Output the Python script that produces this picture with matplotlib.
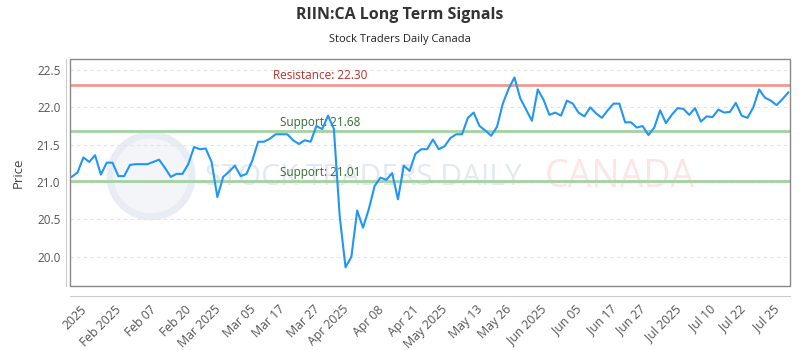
import matplotlib
matplotlib.use('Agg')
import matplotlib.pyplot as plt
import matplotlib.transforms as mtransforms
from matplotlib.patches import Rectangle, Ellipse

TITLE    = 'RIIN:CA Long Term Signals'
SUBTITLE = 'Stock Traders Daily Canada'

# daily closes (one value per trading day)
prices = [
    21.07, 21.13, 21.33, 21.27, 21.36, 21.10, 21.26, 21.26, 21.08, 21.08,
    21.23, 21.24, 21.24, 21.24, 21.27, 21.30, 21.19, 21.07, 21.11, 21.11,
    21.24, 21.47, 21.44, 21.45, 21.27, 20.80, 21.07, 21.14, 21.22, 21.08,
    21.11, 21.29, 21.54, 21.54, 21.58, 21.64, 21.64, 21.64, 21.56, 21.51,
    21.56, 21.54, 21.75, 21.71, 21.89, 21.71, 20.54, 19.86, 20.00, 20.62,
    20.39, 20.64, 20.95, 21.06, 21.03, 21.12, 20.77, 21.22, 21.15, 21.38,
    21.44, 21.44, 21.57, 21.44, 21.48, 21.59, 21.64, 21.64, 21.86, 21.93,
    21.75, 21.69, 21.62, 21.74, 22.05, 22.25, 22.40, 22.12, 21.97, 21.82,
    22.24, 22.10, 21.90, 21.93, 21.89, 22.09, 22.05, 21.93, 21.88, 22.00,
    21.92, 21.86, 21.96, 22.05, 22.05, 21.80, 21.80, 21.73, 21.75, 21.63,
    21.73, 21.96, 21.79, 21.90, 21.99, 21.98, 21.90, 21.99, 21.81, 21.88,
    21.87, 21.97, 21.93, 21.94, 22.06, 21.89, 21.86, 22.00, 22.24, 22.13,
    22.09, 22.03, 22.11, 22.20,
]

tick_idx    = [3, 9, 15, 21, 26, 32, 37, 43, 48, 54, 60,
               65, 71, 76, 82, 88, 94, 99, 105, 111, 116, 122]
tick_labels = ['2025', 'Feb 2025', 'Feb 07', 'Feb 20', 'Mar 2025', 'Mar 05',
               'Mar 17', 'Mar 27', 'Apr 2025', 'Apr 08', 'Apr 21', 'May 2025',
               'May 13', 'May 26', 'Jun 2025', 'Jun 05', 'Jun 17', 'Jun 27',
               'Jul 2025', 'Jul 10', 'Jul 22', 'Jul 25']
y_ticks     = [20.0, 20.5, 21.0, 21.5, 22.0, 22.5]

resistance = 22.30
supports   = [21.68, 21.01]

plt.rcParams['font.family'] = ['Open Sans', 'DejaVu Sans']

fig = plt.figure(figsize=(8, 3.5), dpi=100)
ax  = fig.add_axes([0.0875, 0.1829, 0.9, 0.6485])

# spines first: moving a spine resets the tick labels
for side in ('top', 'right'):
    ax.spines[side].set_visible(False)
ax.spines['left'].set_position(('outward', 2.9))
ax.spines['bottom'].set_position(('outward', 7.2))
ax.spines['left'].set_color('#cccccc')
ax.spines['bottom'].set_color('#cccccc')
ax.add_patch(Rectangle((0, 0), 1, 1, transform=ax.transAxes, fill=False,
                       edgecolor='#888888', linewidth=1, clip_on=False, zorder=5))

x = list(range(len(prices)))
ax.set_xlim(-0.3, len(prices) - 0.7)
ax.set_ylim(19.61, 22.647)

# faint watermark
ax.add_patch(Ellipse((0.1125, 0.485), 0.114, 0.361, transform=ax.transAxes,
                     facecolor='#f3f5f9', edgecolor='#e8ecf3', lw=5, zorder=0))
ax.text(0.188, 0.478, 'STOCK TRADERS DAILY', transform=ax.transAxes,
        fontsize=21.5, color='#e3e8f1', ha='left', va='center', zorder=0)
ax.text(0.66, 0.478, 'CANADA', transform=ax.transAxes,
        fontsize=27, color='#fde5e5', ha='left', va='center', zorder=0)

ax.grid(axis='y', color='#e3e3e3', linestyle=(0, (3, 3)), linewidth=0.8)
ax.set_axisbelow(True)

ax.axhline(resistance, color='#f19a94', linewidth=2, zorder=2)
for s in supports:
    ax.axhline(s, color='#a3d3a0', linewidth=2, zorder=2)

trans = mtransforms.blended_transform_factory(ax.transAxes, ax.transData)
ax.annotate(f'Resistance: {resistance:.2f}', (0.347, resistance), xycoords=trans,
            xytext=(0, 2), textcoords='offset points', ha='center', va='bottom',
            fontsize=8.5, color='#b3312c')
for s in supports:
    ax.annotate(f'Support: {s:.2f}', (0.347, s), xycoords=trans,
                xytext=(0, 2), textcoords='offset points', ha='center', va='bottom',
                fontsize=8.5, color='#2f6e2f')

ax.plot(x, prices, color='#2196f3', linewidth=1.5, zorder=4)

ax.tick_params(axis='x', length=0, pad=5)
ax.tick_params(axis='y', length=0, pad=4)
ax.set_xticks(tick_idx)
ax.set_xticklabels(tick_labels, fontsize=8.8, color='#555555', rotation=45, ha='right')
ax.set_yticks(y_ticks)
ax.set_yticklabels([f'{v:.1f}' for v in y_ticks], fontsize=8.5, color='#555555')
ax.set_ylabel('Price', fontsize=9.5, color='#444444', labelpad=9)

fig.text(0.5, 0.957, TITLE, ha='center', va='center', fontsize=11.5,
         fontweight='bold', color='#333333')
fig.text(0.5, 0.886, SUBTITLE, ha='center', va='center', fontsize=8, color='#222222')

fig.savefig('out.png', dpi=100)
